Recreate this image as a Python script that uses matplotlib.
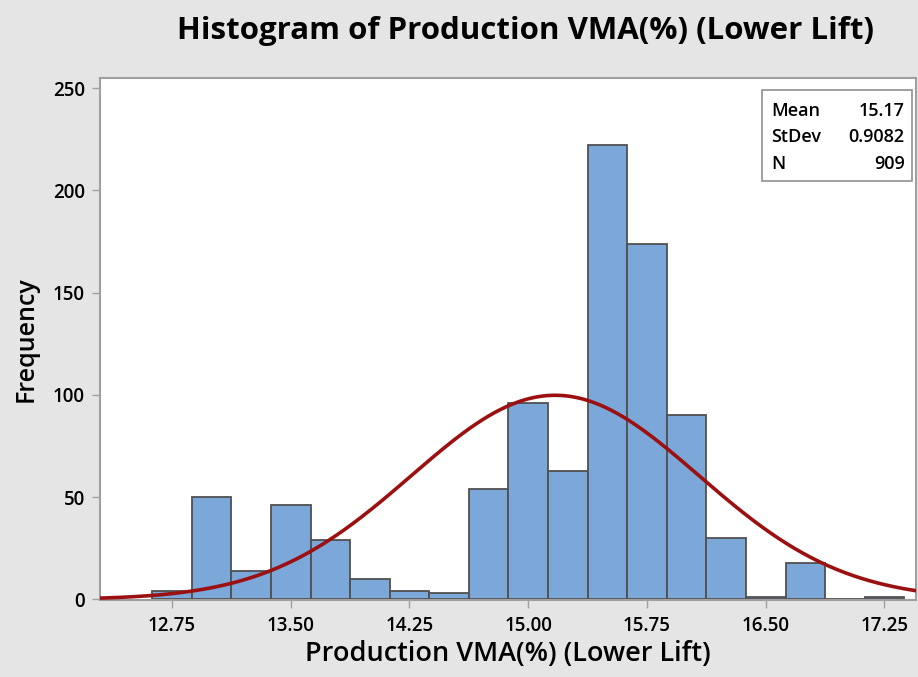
import matplotlib.pyplot as plt
import numpy as np

# Bin midpoints (bin width 0.25) and counts
bin_mids = [12.75, 13.00, 13.25, 13.50, 13.75, 14.00, 14.25, 14.50, 14.75, 15.00,
            15.25, 15.50, 15.75, 16.00, 16.25, 16.50, 16.75, 17.00, 17.25]
counts = [4, 50, 14, 46, 29, 10, 4, 3, 54, 96,
          63, 222, 174, 90, 30, 1, 18, 0, 1]
bin_width = 0.25

# Summary stats shown in the box
mean_val = 15.17
stdev_val = 0.9082
n_obs = 909

x_ticks = [12.75, 13.50, 14.25, 15.00, 15.75, 16.50, 17.25]
y_ticks = [0, 50, 100, 150, 200, 250]

plt.rcParams['font.family'] = ['Open Sans', 'DejaVu Sans']

bg = '#e5e5e5'
spine_col = '#a0a0a0'

fig = plt.figure(figsize=(9.18, 6.77), dpi=100, facecolor=bg)
ax = fig.add_axes([0.109, 0.113, 0.889, 0.772])
ax.set_facecolor('white')

ax.bar(bin_mids, counts, width=bin_width, color='#7ba7d9',
       edgecolor='#505050', linewidth=1.3, zorder=2)

# fitted normal curve from the reported mean / stdev, scaled to counts
xs = np.linspace(12.29, 17.45, 400)
pdf = np.exp(-0.5 * ((xs - mean_val) / stdev_val) ** 2) / (stdev_val * np.sqrt(2 * np.pi))
ax.plot(xs, pdf * n_obs * bin_width, color='#9b1111', linewidth=2.6, zorder=3)

ax.set_xlim(12.296, 17.45)
ax.set_ylim(-0.5, 255)
ax.set_xticks(x_ticks)
ax.set_xticklabels([f'{t:.2f}' for t in x_ticks])
ax.set_yticks(y_ticks)

for s in ax.spines.values():
    s.set_color(spine_col)
    s.set_linewidth(1.5)
ax.tick_params(direction='out', length=6, width=1, color=spine_col,
               labelsize=13.5, pad=5)
for lbl in ax.get_xticklabels() + ax.get_yticklabels():
    lbl.set_fontweight('semibold')

ax.set_xlabel('Production VMA(%) (Lower Lift)', fontsize=19.5, fontweight='semibold', labelpad=3)
ax.set_ylabel('Frequency', fontsize=18, fontweight='semibold', labelpad=10)
fig.suptitle('Histogram of Production VMA(%) (Lower Lift)', x=0.572, y=0.976,
             fontsize=22.5, fontweight='bold')

# stats box
box = plt.Rectangle((0.811, 0.802), 0.184, 0.175, transform=ax.transAxes,
                    facecolor='white', edgecolor='#909090', linewidth=1.2, zorder=4)
ax.add_patch(box)
rows = [('Mean', f'{mean_val:.2f}'), ('StDev', f'{stdev_val:.4f}'), ('N', f'{n_obs}')]
for i, (k, v) in enumerate(rows):
    yy = 0.937 - i * 0.051
    ax.text(0.822, yy, k, transform=ax.transAxes, fontsize=13, fontweight='semibold',
            va='center', ha='left', zorder=5)
    ax.text(0.986, yy, v, transform=ax.transAxes, fontsize=13, fontweight='semibold',
            va='center', ha='right', zorder=5)

fig.savefig('out.png', dpi=100, facecolor=bg)
